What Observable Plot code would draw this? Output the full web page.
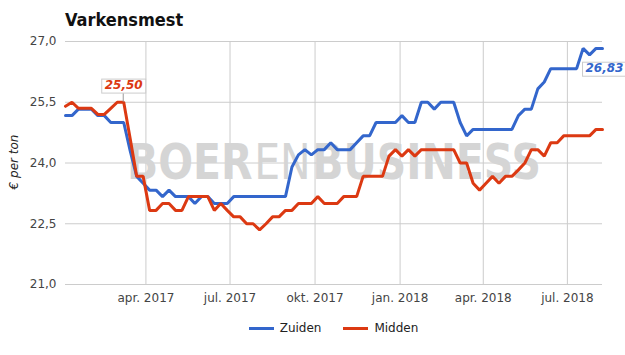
<!DOCTYPE html>
<html><head><meta charset="utf-8">
<script src="https://cdn.jsdelivr.net/npm/d3@7"></script>
<script src="https://cdn.jsdelivr.net/npm/@observablehq/plot@0.6"></script>
<style>
body{margin:0;background:#fff;}
#wrap{position:relative;width:625px;height:355px;overflow:hidden;font-family:"DejaVu Sans",sans-serif;}
#chart{position:absolute;left:0;top:0;}
#title{position:absolute;left:65px;top:11px;font-family:"DejaVu Sans Condensed","DejaVu Sans",sans-serif;font-stretch:condensed;font-weight:bold;font-size:18px;line-height:18px;color:#111;white-space:nowrap;}
#ylabel{position:absolute;left:14px;top:162px;transform:translate(-50%,-50%) rotate(-90deg);font-style:italic;font-size:12px;color:#222;white-space:nowrap;}
#legend{position:absolute;left:65px;top:321px;width:537px;height:14px;display:flex;justify-content:center;align-items:center;font-size:12px;line-height:14px;color:#222;}
.item{display:flex;align-items:center;margin:0 11px;}
.sw{width:25px;height:3px;margin-right:6px;}
</style>
</head><body>
<div id="wrap">
  <div id="chart"></div>
  <div id="title"></div>
  <div id="ylabel"></div>
  <div id="legend"></div>
</div>
<script>
const titleText = "Varkensmest";
const yLabel = "€ per ton";
const watermark = ["BOER", "EN", "BUSINESS"];
const seriesNames = ["Zuiden", "Midden"];
const seriesColors = ["#3366cc", "#dc3912"];
const startDate = "2017-01-04"; // weekly observations
const zuiden = [
  25.17, 25.17, 25.33, 25.33, 25.33, 25.17, 25.17, 25.0, 25.0, 25.0,
  24.3, 23.67, 23.5, 23.33, 23.33, 23.17, 23.33, 23.17, 23.17, 23.17,
  23.0, 23.17, 23.17, 23.0, 23.0, 23.0, 23.17, 23.17, 23.17, 23.17,
  23.17, 23.17, 23.17, 23.17, 23.17, 23.9, 24.2, 24.33, 24.2, 24.33,
  24.33, 24.5, 24.33, 24.33, 24.33, 24.5, 24.67, 24.67, 25.0, 25.0,
  25.0, 25.0, 25.17, 25.0, 25.0, 25.5, 25.5, 25.33, 25.5, 25.5,
  25.5, 25.0, 24.67, 24.83, 24.83, 24.83, 24.83, 24.83, 24.83, 24.83,
  25.17, 25.33, 25.33, 25.83, 26.0, 26.33, 26.33, 26.33, 26.33, 26.33,
  26.83, 26.67, 26.83, 26.83
];
const midden = [
  25.4, 25.5, 25.35, 25.35, 25.35, 25.2, 25.2, 25.35, 25.5, 25.5,
  24.6, 23.67, 23.67, 22.83, 22.83, 23.0, 23.0, 22.83, 22.83, 23.17,
  23.17, 23.17, 23.17, 22.83, 23.0, 22.83, 22.67, 22.67, 22.5, 22.5,
  22.35, 22.5, 22.67, 22.67, 22.83, 22.83, 23.0, 23.0, 23.0, 23.17,
  23.0, 23.0, 23.0, 23.17, 23.17, 23.17, 23.67, 23.67, 23.67, 23.67,
  24.17, 24.33, 24.17, 24.33, 24.17, 24.33, 24.33, 24.33, 24.33, 24.33,
  24.33, 24.0, 24.0, 23.5, 23.33, 23.5, 23.67, 23.5, 23.67, 23.67,
  23.83, 24.0, 24.33, 24.33, 24.17, 24.5, 24.5, 24.67, 24.67, 24.67,
  24.67, 24.67, 24.83, 24.83
];
const yTicks = [21.0, 22.5, 24.0, 25.5, 27.0];
const xTickDates = ["2017-04-01", "2017-07-01", "2017-10-01", "2018-01-01", "2018-04-01", "2018-07-01"];
const xTickLabels = ["apr. 2017", "jul. 2017", "okt. 2017", "jan. 2018", "apr. 2018", "jul. 2018"];
const annotated = [{series: "Midden", index: 9}, {series: "Zuiden", index: 83}];

// build table
const t0 = new Date(startDate + "T00:00:00Z");
const dates = zuiden.map((_, i) => d3.utcDay.offset(t0, 7 * i));
const rows = [];
seriesNames.forEach((s, k) => {
  const vals = k === 0 ? zuiden : midden;
  vals.forEach((v, i) => rows.push({series: s, date: dates[i], value: v}));
});
const tickDates = xTickDates.map(d => new Date(d + "T00:00:00Z"));
const tickMap = new Map(tickDates.map((d, i) => [+d, xTickLabels[i]]));
const fmt = v => v.toFixed(1).replace(".", ",");
const colorOf = s => seriesColors[seriesNames.indexOf(s)];
const annRows = annotated.map(a => {
  const vals = a.series === "Zuiden" ? zuiden : midden;
  return {series: a.series, date: dates[a.index], value: vals[a.index], label: vals[a.index].toFixed(2).replace(".", ",")};
});

const plot = Plot.plot({
  width: 625, height: 310,
  marginTop: 41, marginBottom: 26, marginLeft: 65, marginRight: 23,
  style: {fontFamily: "DejaVu Sans, sans-serif", fontSize: "12px", color: "#444", background: "transparent", overflow: "visible"},
  x: {type: "utc", domain: [dates[0], dates[dates.length - 1]], ticks: tickDates, tickFormat: d => tickMap.get(+d), tickSize: 0, tickPadding: 9, label: null},
  y: {domain: [21, 27], ticks: yTicks, tickFormat: fmt, tickSize: 0, tickPadding: 9, label: null},
  marks: [
    Plot.ruleY(yTicks, {stroke: "#cccccc", strokeWidth: 1}),
    Plot.ruleX(tickDates, {stroke: "#cccccc", strokeWidth: 1}),
    Plot.text([watermark.join("")], {frameAnchor: "middle", text: d => d, fontSize: 50, fontWeight: "bold", fill: "#d5d5d5"}),
    Plot.line(rows.filter(r => r.series === "Zuiden"), {x: "date", y: "value", stroke: colorOf("Zuiden"), strokeWidth: 3, strokeLinejoin: "miter"}),
    Plot.line(rows.filter(r => r.series === "Midden"), {x: "date", y: "value", stroke: colorOf("Midden"), strokeWidth: 3, strokeLinejoin: "miter"}),
    Plot.text(annRows.filter(a => a.series === "Midden"), {x: "date", y: "value", text: "label", dy: -17, fill: colorOf("Midden"), fontWeight: "bold", fontStyle: "italic", fontSize: 12}),
    Plot.text(annRows.filter(a => a.series === "Zuiden"), {x: "date", y: "value", text: "label", dx: 2, dy: 20, fill: colorOf("Zuiden"), fontWeight: "bold", fontStyle: "italic", fontSize: 12})
  ]
});
document.getElementById("chart").appendChild(plot);

const svg = d3.select(plot);
const svgRect = plot.getBoundingClientRect();

// watermark: pieces with mixed weights, horizontally scaled to fit the total width
svg.selectAll("text").filter(function() { return this.textContent === watermark.join(""); }).each(function() {
  let g = this;
  while (g.parentNode !== plot) g = g.parentNode;
  const b = this.getBoundingClientRect();
  const cx = b.left - svgRect.left + b.width / 2;
  const baseline = b.top - svgRect.top + 0.928 * 50;
  const totalW = 414, gap = 2;
  const wg = svg.insert("g", function() { return g; })
    .attr("font-family", "DejaVu Sans, sans-serif").attr("font-size", 50).attr("fill", "#d5d5d5");
  const pieces = watermark.map((w, i) => {
    const t = wg.append("text").attr("font-weight", i === 1 ? "normal" : "bold")
      .attr("text-anchor", "start").attr("x", 0).attr("y", baseline).text(w);
    return {node: t, w: t.node().getComputedTextLength()};
  });
  let xpos = 0;
  pieces.forEach(p => { p.node.attr("x", xpos); xpos += p.w + gap; });
  const natural = xpos - gap;
  const k = totalW / natural;
  wg.attr("transform", `translate(${cx - totalW / 2},0) scale(${k},1)`);
  d3.select(g).remove();
});

// annotation boxes and leader (in svg coordinates, placed under the label group)
const sx = plot.scale("x"), sy = plot.scale("y");
annRows.forEach(a => {
  svg.selectAll("text").filter(function() { return this.textContent === a.label; }).each(function() {
    const r = this.getBoundingClientRect();
    let g = this;
    while (g.parentNode !== plot) g = g.parentNode;
    const x0 = r.left - svgRect.left - 3, y0 = r.top - svgRect.top + 1;
    const w = r.width + 6, h = r.height;
    const px = sx.apply(a.date), py = sy.apply(a.value);
    if (a.series === "Midden") {
      svg.insert("line", function() { return g; })
        .attr("x1", px).attr("x2", px).attr("y1", y0 + h).attr("y2", py)
        .attr("stroke", "#999").attr("stroke-width", 1);
    }
    svg.insert("rect", function() { return g; })
      .attr("x", x0).attr("y", y0).attr("width", w).attr("height", h)
      .attr("fill", "#fff").attr("stroke", "#cccccc").attr("stroke-width", 1);
  });
});

document.getElementById("title").textContent = titleText;
document.getElementById("ylabel").textContent = yLabel;
const leg = d3.select("#legend");
seriesNames.forEach((s, i) => {
  const it = leg.append("div").attr("class", "item");
  it.append("div").attr("class", "sw").style("background", seriesColors[i]);
  it.append("span").text(s);
});
</script>
</body></html>
